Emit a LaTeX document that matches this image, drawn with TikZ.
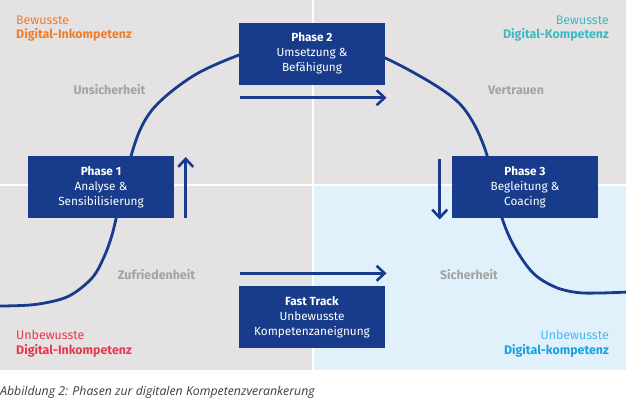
\documentclass[tikz,border=0pt]{standalone}
\usepackage{fontspec}
\setmainfont{Fira Sans}
\newfontfamily\capfont{Open Sans}
\usetikzlibrary{arrows.meta,calc}
\definecolor{bggray}{HTML}{E4E2E3}
\definecolor{bglight}{HTML}{E1F1FC}
\definecolor{boxblue}{HTML}{183C8B}
\definecolor{corange}{HTML}{F07D2B}
\definecolor{cteal}{HTML}{3DBAC2}
\definecolor{cred}{HTML}{E6394F}
\definecolor{cblue}{HTML}{1A9FE0}
\definecolor{cbluelt}{HTML}{4DB8EA}
\definecolor{lblgray}{HTML}{A3A3A3}
\definecolor{capgray}{HTML}{3C3C3C}
\tikzset{
  phasebox/.style={fill=boxblue, text=white, minimum width=146pt, minimum height=62pt,
    inner sep=0pt, align=center, font=\fontsize{11.8}{15}\selectfont},
  zonelabel/.style={text=lblgray, font=\bfseries\fontsize{12.4}{14}\selectfont, inner sep=0pt},
  cornerlbl/.style={inner sep=0pt, font=\fontsize{12.4}{16}\selectfont},
  flowarrow/.style={draw=boxblue, line width=2.6pt, -{Straight Barb[length=8pt,width=15pt]}},
  scurve/.style={draw=boxblue, line width=2.8pt}
}
\begin{document}
\begin{tikzpicture}[x=1pt,y=-1pt]
\useasboundingbox (0,0) rectangle (626,413);
% backgrounds
\fill[bggray] (0,0) rectangle (626,370);
\fill[bglight] (313,185) rectangle (626,370);
\draw[white, line width=2pt] (312.5,0) -- (312.5,370);
\draw[white, line width=2pt] (0,184.5) -- (626,184.5);
% S curve
\draw[scurve] plot[smooth, tension=0.55] coordinates {
  (-2,306) (35,304.5) (68,296.5) (92,278) (104,257) (112,235) (118,210) (124,185) (131,156)
  (140,130) (152,110) (172,91) (200,72) (239,55) (275,44) (308,40) (345,45) (385,58)
  (430,82) (458,102) (474,124) (486,152) (494,185) (502,218) (514,246) (533,273)
  (555,287) (577,292.5) (600,293) (628,292)};
% boxes
\node[phasebox] (p1) at (101,187) {\textbf{Phase 1}\\Analyse \&\\Sensibilisierung};
\node[phasebox] (p2) at (312,53.5) {\textbf{Phase 2}\\Umsetzung \&\\Befähigung};
\node[phasebox] (p3) at (525,187) {\textbf{Phase 3}\\Begleitung \&\\Coacing};
\node[phasebox] (ft) at (312,317) {\textbf{Fast Track}\\Unbewusste\\Kompetenzaneignung};
% arrows
\coordinate (a2s) at (240,97.7);
\coordinate (a2e) at (386.5,97.7);
\coordinate (afs) at (240,273.3);
\coordinate (afe) at (386.5,273.3);
\coordinate (a1s) at (185.7,217.7);
\coordinate (a1e) at (185.7,157);
\coordinate (a3s) at (439.7,159.3);
\coordinate (a3e) at (439.7,219.5);
\draw[flowarrow] (a2s) -- (a2e);
\draw[flowarrow] (afs) -- (afe);
\draw[flowarrow] (a1s) -- (a1e);
\draw[flowarrow] (a3s) -- (a3e);
% zone labels
\node[zonelabel] (z1) at (109.5,90) {Unsicherheit};
\node[zonelabel] (z2) at (516,90) {Vertrauen};
\node[zonelabel] (z3) at (156.5,275) {Zufriedenheit};
\node[zonelabel] (z4) at (469,275) {Sicherheit};
% corner labels
\node[cornerlbl, anchor=west, text=corange] (c1a) at (16,20) {Bewusste};
\node[cornerlbl, anchor=west, text=corange] (c1b) at (16,34.5) {\textbf{Digital-Inkompetenz}};
\node[cornerlbl, anchor=east, text=cteal] (c2a) at (609,20) {Bewusste};
\node[cornerlbl, anchor=east, text=cteal] (c2b) at (609,34.5) {\textbf{Digital-Kompetenz}};
\node[cornerlbl, anchor=west, text=cred] (c3a) at (16,335) {Unbewusste};
\node[cornerlbl, anchor=west, text=cred] (c3b) at (16,351) {\textbf{Digital-Inkompetenz}};
\node[cornerlbl, anchor=east, text=cbluelt] (c4a) at (609,335) {Unbewusste};
\node[cornerlbl, anchor=east, text=cblue] (c4b) at (609,351) {\textbf{Digital-kompetenz}};
% caption
\node[anchor=west, inner sep=0pt, text=capgray, font=\capfont\itshape\fontsize{12.3}{14}\selectfont] (cap) at (0,392) {Abbildung 2: Phasen zur digitalen Kompetenzverankerung};
\end{tikzpicture}
\end{document}
